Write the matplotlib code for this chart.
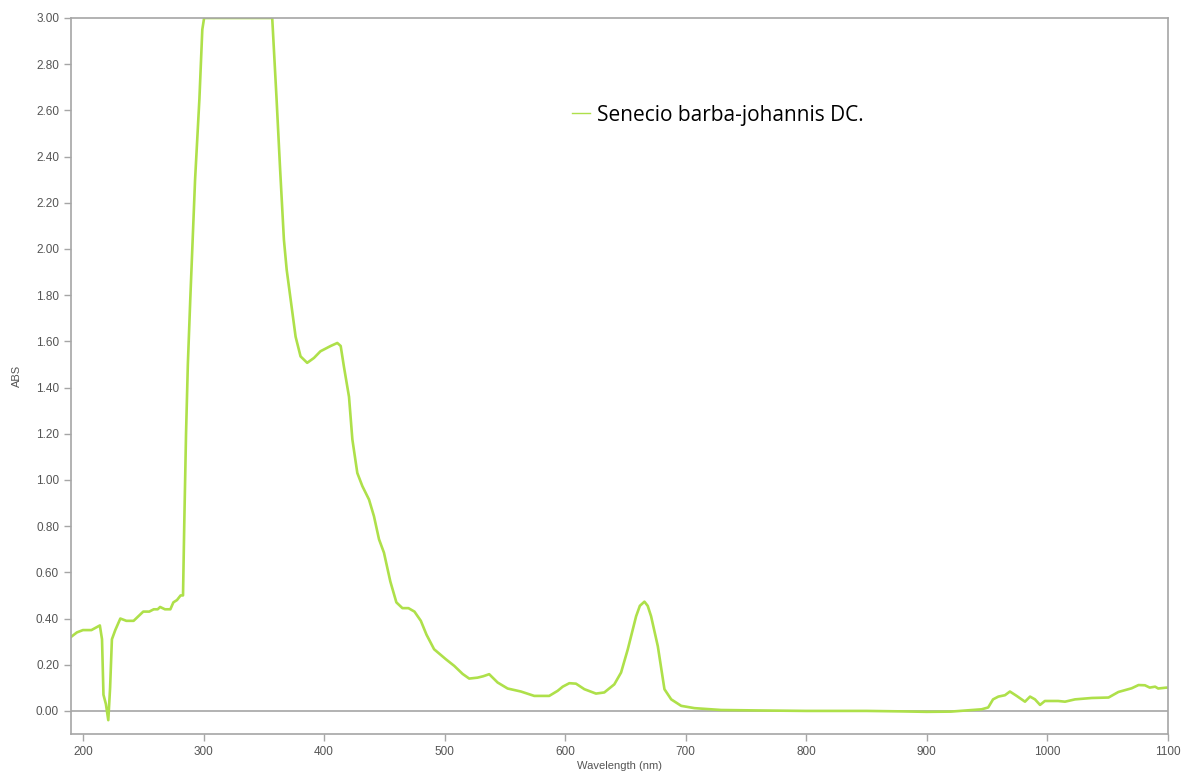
"""
UV-Vis absorbance spectrum of Senecio barba-johannis DC.
"""
import matplotlib
matplotlib.use('Agg')
import matplotlib.pyplot as plt

OUTPUT = 'out.png'

WAVELENGTH = [190, 195, 200, 207, 214, 215.8, 217, 219, 221, 222.5, 224, 226.8,
              231, 236, 242, 246, 250, 255, 258.7, 262, 264, 268, 272.5, 275,
              278, 281, 283, 284, 285.5, 287, 289, 293, 296.6, 299, 300.5,
              357, 360.6, 363.5, 366.7, 369, 372.3, 376.4, 380.5, 386, 391.6,
              397, 405.5, 411, 413.8, 416.5, 420.7, 423.5, 427.6, 431.8, 437.3,
              441.4, 445.6, 449.7, 455, 460, 465, 470, 475, 480.3, 485, 491.3,
              501, 508, 515, 520.4, 527.3, 532, 537, 544, 552.3, 563.3, 574.4,
              586.8, 593.8, 598, 603.5, 609, 616, 625.6, 632.5, 640.8, 646.4,
              652, 658.9, 662, 665.8, 668.5, 671.3, 676.9, 682.4, 688, 696.3,
              707.3, 729.5, 760, 800, 850, 879, 900, 920, 945.5, 951, 955,
              959.4, 964.9, 969, 974.6, 981.5, 985.7, 989.8, 994, 998, 1009,
              1014.7, 1023, 1036.9, 1050.8, 1059, 1070, 1075.7, 1081, 1085,
              1089.5, 1092, 1099, 1100]

ABS = [0.32, 0.34, 0.35, 0.35, 0.37, 0.31, 0.07, 0.03, -0.04, 0.10, 0.31, 0.35,
       0.40, 0.39, 0.39, 0.41, 0.43, 0.43, 0.44, 0.44, 0.45, 0.44, 0.44, 0.47,
       0.48, 0.50, 0.50, 0.80, 1.20, 1.50, 1.78, 2.30, 2.65, 2.95, 3.00,
       3.00, 2.65, 2.35, 2.04, 1.91, 1.78, 1.62, 1.535, 1.507, 1.528,
       1.557, 1.58, 1.593, 1.58, 1.49, 1.36, 1.175, 1.03, 0.973, 0.915,
       0.843, 0.743, 0.685, 0.56, 0.47, 0.445, 0.445, 0.43, 0.39, 0.33, 0.267,
       0.224, 0.195, 0.16, 0.14, 0.144, 0.15, 0.159, 0.123, 0.097, 0.084, 0.065,
       0.065, 0.087, 0.105, 0.12, 0.118, 0.094, 0.075, 0.08, 0.115, 0.166,
       0.267, 0.41, 0.455, 0.473, 0.455, 0.41, 0.28, 0.094, 0.05, 0.022,
       0.012, 0.004, 0.002, 0.0, 0.0, -0.002, -0.004, -0.003, 0.007, 0.015, 0.05,
       0.062, 0.068, 0.084, 0.065, 0.04, 0.062, 0.05, 0.026, 0.043, 0.043,
       0.04, 0.05, 0.056, 0.058, 0.082, 0.098, 0.112, 0.111, 0.101,
       0.105, 0.097, 0.101, 0.10]

SAMPLE = 'Senecio barba-johannis DC.'
X_TICKS = list(range(200, 1101, 100))
Y_TICKS = [i * 0.2 for i in range(16)]

GREEN = '#aee04a'
GREY = '#a6a6a6'
TEXT_GREY = '#555555'


def plot_spectrum(output_filename):
    plt.rcParams['font.family'] = ['Liberation Sans', 'DejaVu Sans']
    fig = plt.figure(figsize=(11.82, 7.72), dpi=100)
    ax = fig.add_axes([0.060, 0.0492, 0.928, 0.9275])

    ax.axhline(0, color=GREY, lw=1.2, zorder=1)
    ax.plot(WAVELENGTH, ABS, color=GREEN, lw=1.9, label=SAMPLE, zorder=2)

    ax.set_xlim(190, 1100)
    ax.set_ylim(-0.1, 3.0)
    ax.set_xticks(X_TICKS)
    ax.set_yticks(Y_TICKS)
    ax.set_yticklabels([f'{v:.2f}' for v in Y_TICKS])
    ax.tick_params(colors=GREY, labelcolor=TEXT_GREY, labelsize=8.5,
                   length=5, width=1)
    for spine in ax.spines.values():
        spine.set_color(GREY)
        spine.set_linewidth(1.2)

    ax.set_xlabel('Wavelength (nm)', fontsize=8, color=TEXT_GREY, labelpad=2)
    ax.set_ylabel('ABS', fontsize=8, color=TEXT_GREY, labelpad=10)

    leg = ax.legend(loc='center left', bbox_to_anchor=(0.457, 0.8645),
                    frameon=False, borderpad=0, borderaxespad=0,
                    handlelength=0.85, handletextpad=0.35,
                    prop={'family': 'Open Sans', 'size': 15})
    for line in leg.get_lines():
        line.set_linewidth(1.0)

    fig.savefig(output_filename, dpi=100)


if __name__ == '__main__':
    plot_spectrum(OUTPUT)
